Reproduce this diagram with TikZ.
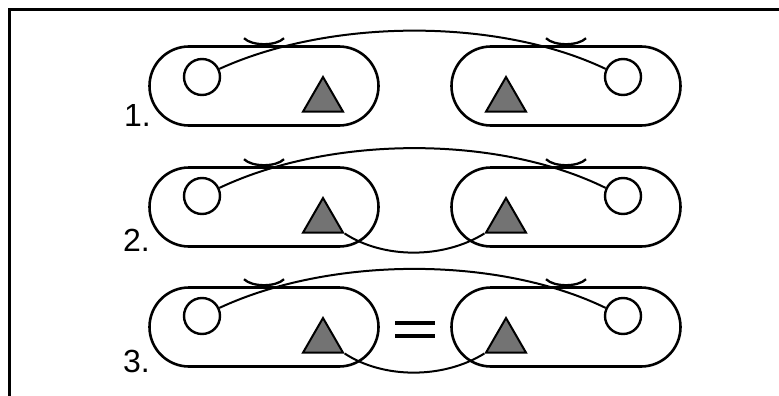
\documentclass[tikz,border=0pt]{standalone}
\usepackage{fontspec}
\setmainfont{Liberation Sans}
\usetikzlibrary{shapes.misc,shapes.geometric}
\tikzset{
  capsule/.style={draw, line width=2.6pt, shape=rounded rectangle, minimum width=229pt, minimum height=79pt, inner sep=0pt},
  dotc/.style={draw, line width=2.4pt, circle, minimum size=36pt, inner sep=0pt, fill=white},
  tri/.style={draw, line width=2pt, regular polygon, regular polygon sides=3, minimum size=46pt, inner sep=0pt, fill=black!55},
  link/.style={line width=2pt},
  hat/.style={line width=2.3pt},
  lbl/.style={font=\fontsize{32}{34}\selectfont, inner sep=0pt, anchor=base east},
  eqbar/.style={line width=3.2pt},
  frameline/.style={line width=3pt},
}
\begin{document}
\begin{tikzpicture}[x=1pt,y=-1pt]
\useasboundingbox (0,0) rectangle (779,396);
% frame
\coordinate (fa) at (9,396);
\coordinate (fb) at (9,10);
\coordinate (fc) at (779,10);
\draw[frameline] (fa) -- (fb) -- (fc);

% ---------- row 1 ----------
\node[capsule] (L1) at (264,86) {};
\node[capsule] (R1) at (566,86) {};
\node[dotc] (cL1) at (202,77) {};
\node[dotc] (cR1) at (623,77) {};
\node[tri] (tL1) at (323,100) {};
\node[tri] (tR1) at (506,100) {};
\draw[hat] ([shift={(-20,-7)}]L1.north) .. controls +(8,8) and +(-8,8) .. ([shift={(20,-7)}]L1.north);
\draw[hat] ([shift={(-20,-7)}]R1.north) .. controls +(8,8) and +(-8,8) .. ([shift={(20,-7)}]R1.north);
\draw[link] (cL1.25) .. controls +(112,-51) and +(-107,-51) .. (cR1.155);
\node[lbl] (n1) at (151,126) {1.};

% ---------- row 2 ----------
\node[capsule] (L2) at (264,207) {};
\node[capsule] (R2) at (566,207) {};
\node[dotc] (cL2) at (202,196) {};
\node[dotc] (cR2) at (623,196) {};
\node[tri] (tL2) at (323,221) {};
\node[tri] (tR2) at (506,221) {};
\draw[hat] ([shift={(-20,-7)}]L2.north) .. controls +(8,8) and +(-8,8) .. ([shift={(20,-7)}]L2.north);
\draw[hat] ([shift={(-20,-7)}]R2.north) .. controls +(8,8) and +(-8,8) .. ([shift={(20,-7)}]R2.north);
\draw[link] (cL2.25) .. controls +(112,-53) and +(-107,-53) .. (cR2.155);
\draw[link] (tL2.corner 3) .. controls +(38,25) and +(-42,26) .. (tR2.corner 2);
\node[lbl] (n2) at (150,251) {2.};

% ---------- row 3 ----------
\node[capsule] (L3) at (264,327) {};
\node[capsule] (R3) at (566,327) {};
\node[dotc] (cL3) at (202,316) {};
\node[dotc] (cR3) at (623,316) {};
\node[tri] (tL3) at (323,341) {};
\node[tri] (tR3) at (506,341) {};
\draw[hat] ([shift={(-20,-7)}]L3.north) .. controls +(8,8) and +(-8,8) .. ([shift={(20,-7)}]L3.north);
\draw[hat] ([shift={(-20,-7)}]R3.north) .. controls +(8,8) and +(-8,8) .. ([shift={(20,-7)}]R3.north);
\draw[link] (cL3.25) .. controls +(112,-52) and +(-107,-52) .. (cR3.155);
\draw[link] (tL3.corner 3) .. controls +(38,25) and +(-42,26) .. (tR3.corner 2);
\node[lbl] (n3) at (150,372) {3.};
% equals sign between the two capsules of row 3
\coordinate (e1a) at (395,323);
\coordinate (e1b) at (435,323);
\coordinate (e2a) at (395,336);
\coordinate (e2b) at (435,336);
\draw[eqbar] (e1a) -- (e1b);
\draw[eqbar] (e2a) -- (e2b);
\end{tikzpicture}
\end{document}
